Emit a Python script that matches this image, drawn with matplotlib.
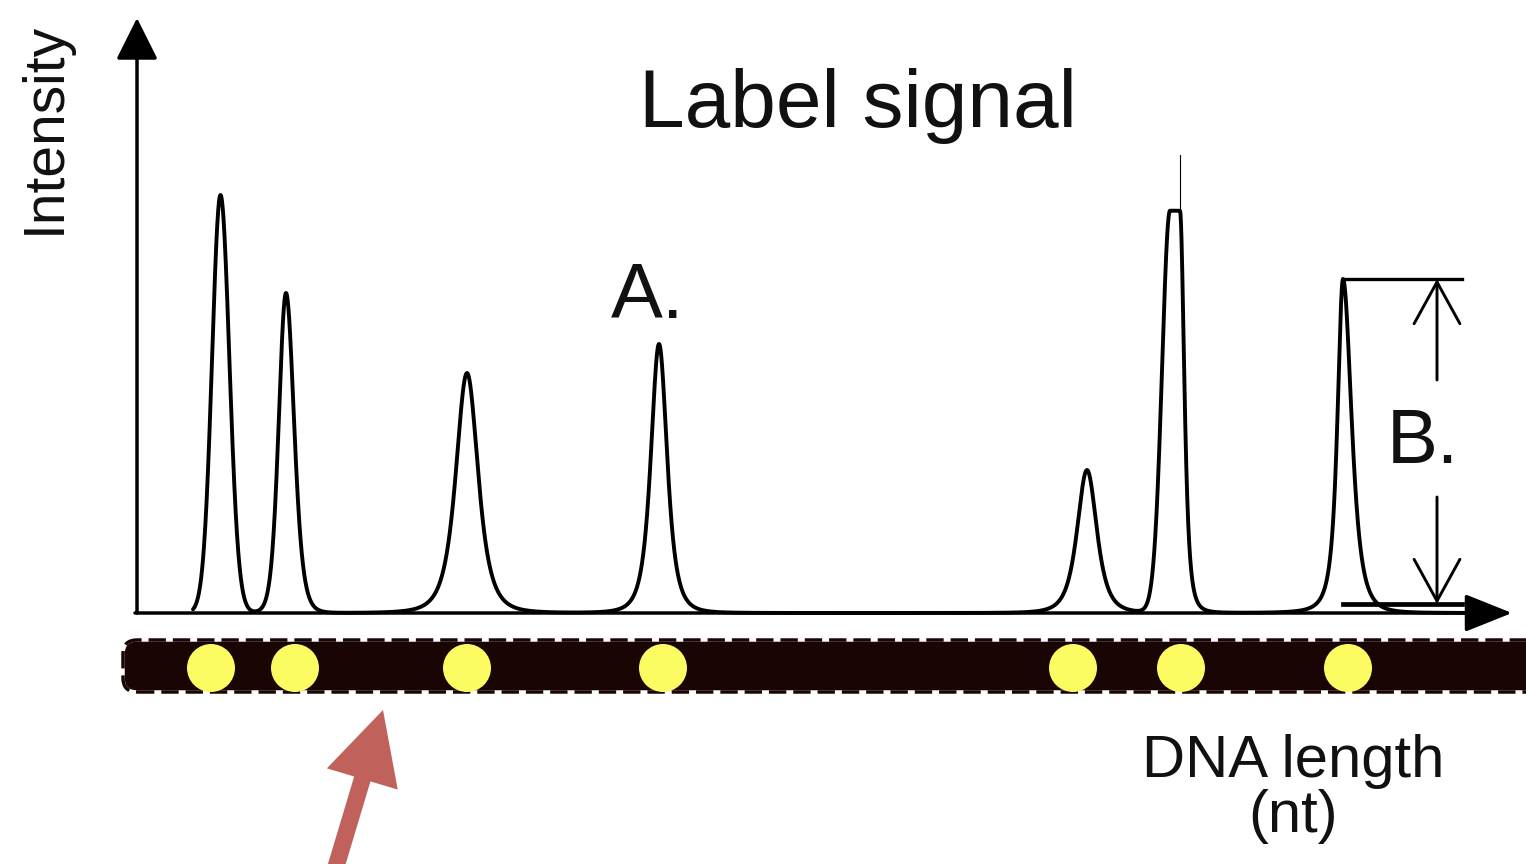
import numpy as np
import matplotlib
matplotlib.use('Agg')
import matplotlib.pyplot as plt
from matplotlib.patches import FancyBboxPatch, Circle

# ---- data (x = position along DNA in picture units, y = intensity above baseline) ----
peak_pos = [220.5, 286, 467, 659, 1087, 1175, 1343]
peak_height = [418, 320, 240, 269, 143, 402, 334]
peak_hwhm_left = [10, 8.5, 13, 9.5, 11.5, 9.4, 6.5]
peak_hwhm_right = [10.5, 9.5, 13, 9.5, 11.5, 5, 10]
peak_shape_left = [20, 6, 2, 2, 2, 20, 1.5]
peak_shape_right = [20, 4, 2, 2, 2, 2, 2]
peak_flat = [0, 0, 0, 0, 0, 10, 0]
spike_pos = 1180
spike_top = 458
label_pos = [211, 295, 467, 663, 1073, 1181, 1348]
trace_start, trace_end = 193, 1470

title_text = "Label signal"
ylabel_text = "Intensity"
xlabel_text = "DNA length\n(nt)"

FONT = ['Liberation Sans', 'DejaVu Sans']
TXT = '#111111'

fig = plt.figure(figsize=(15.26, 8.64), dpi=100)
ax = fig.add_axes([0, 0, 1, 1])
ax.set_xlim(0, 1526)
ax.set_ylim(613 - 864, 613)
ax.axis('off')


def pearson7(d, w, m):
    return (1 + (d / w) ** 2 * (2 ** (1.0 / m) - 1)) ** (-m)


# ---- trace built from the peak list ----
x = np.arange(trace_start, trace_end, 0.25)
trace = np.zeros_like(x)
for c, h, wl, wr, ml, mr, f in zip(peak_pos, peak_height, peak_hwhm_left, peak_hwhm_right,
                                   peak_shape_left, peak_shape_right, peak_flat):
    dl = np.clip((c - f / 2) - x, 0, None)
    dr = np.clip(x - (c + f / 2), 0, None)
    shape = np.where(x < c, pearson7(dl, wl, ml), pearson7(dr, wr, mr))
    trace += h * shape
ax.plot(x, trace, color='black', lw=2.8, solid_joinstyle='round', solid_capstyle='round', zorder=3)
ax.plot([spike_pos, spike_pos], [peak_height[5], spike_top], color='black', lw=0.8, zorder=3)

# ---- axes with arrowheads ----
ax.annotate('', xy=(137, 595), xytext=(137, 0),
            arrowprops=dict(arrowstyle='-|>,head_length=1.0,head_width=0.5', lw=2.5,
                            color='black', shrinkA=0, shrinkB=0, mutation_scale=26), zorder=4)
ax.annotate('', xy=(1512, 0), xytext=(135, 0),
            arrowprops=dict(arrowstyle='-|>,head_length=1.05,head_width=0.42', lw=2.5,
                            color='black', shrinkA=0, shrinkB=0, mutation_scale=28), zorder=4)

# ---- B. bracket on last peak ----
bx = 1437
hB = peak_height[-1]
ax.plot([peak_pos[-1], 1462], [hB, hB], color='black', lw=2.4, zorder=4)
ax.plot([peak_pos[-1], 1462], [9, 9], color='black', lw=3.4, zorder=4)
ax.annotate('', xy=(bx, hB), xytext=(bx, 233),
            arrowprops=dict(arrowstyle='->,head_length=1.0,head_width=0.55', lw=2.1,
                            color='black', shrinkA=0, shrinkB=0, mutation_scale=30))
ax.annotate('', xy=(bx, 9), xytext=(bx, 116),
            arrowprops=dict(arrowstyle='->,head_length=1.0,head_width=0.55', lw=2.1,
                            color='black', shrinkA=0, shrinkB=0, mutation_scale=30))

# ---- texts ----
ax.text(858, 613 - 127, title_text, ha='center', va='baseline', fontsize=59, family=FONT, color=TXT)
ax.text(648, 613 - 318, "A.", ha='center', va='baseline', fontsize=56, family=FONT, color=TXT)
ax.text(1423, 613 - 463, "B.", ha='center', va='baseline', fontsize=55, family=FONT, color=TXT)
ax.text(60, 613 - 128, ylabel_text, ha='center', va='baseline', rotation=90,
        rotation_mode='anchor', fontsize=41, family=FONT, color=TXT)
lines = xlabel_text.split('\n')
ax.text(1293, 613 - 777, lines[0], ha='center', va='baseline', fontsize=43, family=FONT, color=TXT)
ax.text(1293, 613 - 832, lines[1], ha='center', va='baseline', fontsize=43, family=FONT, color=TXT)

# ---- DNA bar with labels ----
bar_kw = dict(boxstyle='round,pad=0,rounding_size=14')
ax.add_patch(FancyBboxPatch((123, -79), 1440, 52, facecolor='#1a0505',
                            edgecolor='white', lw=2.5, zorder=2, **bar_kw))
ax.add_patch(FancyBboxPatch((123, -79), 1440, 52, facecolor='none',
                            edgecolor='#1a0505', lw=2.5, linestyle=(0, (5, 2)), zorder=2, **bar_kw))
for p in label_pos:
    ax.add_patch(Circle((p, -55), 24, facecolor='#fcfc62', edgecolor='none', zorder=3))

# ---- red pointer arrow ----
ax.arrow(332, 613 - 880, 51, 170, width=17, head_width=74, head_length=72,
         length_includes_head=True, color='#c0625b', lw=0, zorder=5)

fig.savefig('out.png', dpi=100, facecolor='white')
